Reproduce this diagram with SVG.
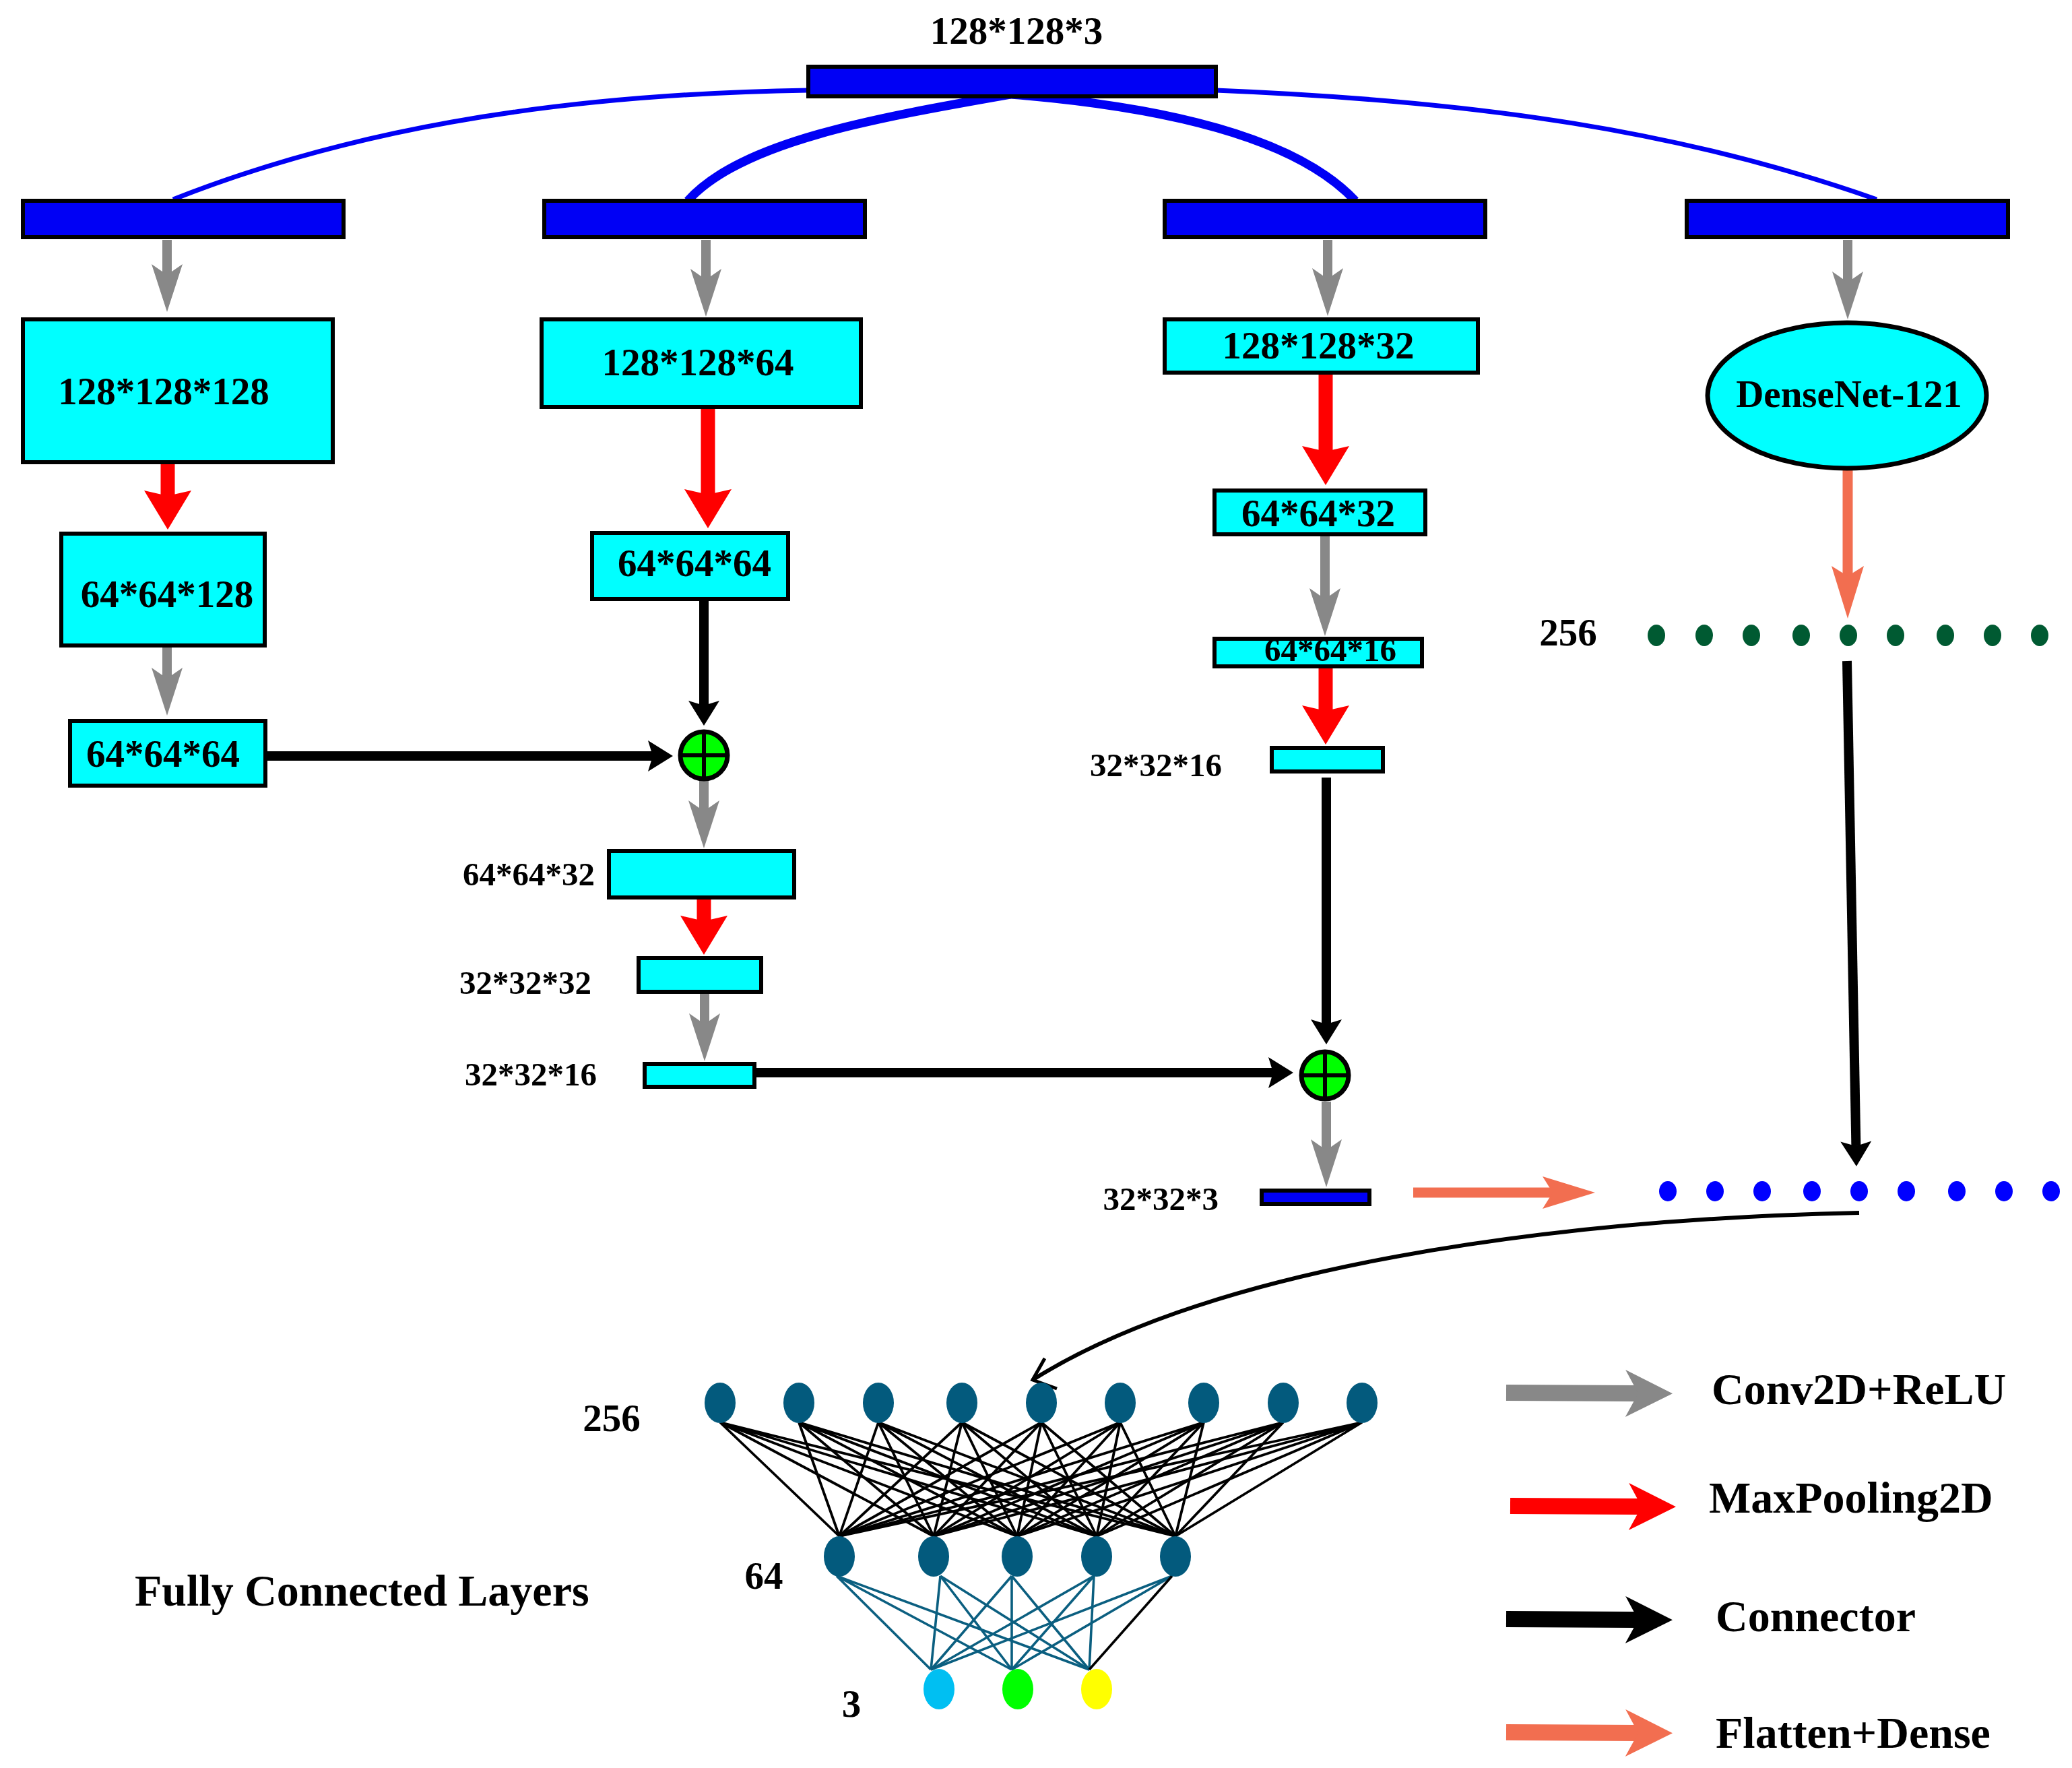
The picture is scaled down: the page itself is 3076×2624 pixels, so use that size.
<svg xmlns="http://www.w3.org/2000/svg" width="3076" height="2624" viewBox="0 0 3076 2624">
<style>
text{font-family:"Liberation Serif","Times New Roman",serif;font-weight:bold;fill:#000}
.t{font-size:57px;text-anchor:middle}
.l{font-size:49px;text-anchor:end}
.g{font-size:66px}
.bx{stroke:#000;stroke-width:6}
.blue{fill:#0000f5}
.cyan{fill:#00ffff}
.gray{stroke:#888;stroke-width:14;fill:none}
.red{stroke:#ff0000;stroke-width:21;fill:none}
.blk{stroke:#000;stroke-width:14;fill:none}
.sal{stroke:#f26e50;stroke-width:15;fill:none}
.bc{stroke:#0000f5;fill:none}
.nn{fill:#035a7d}
.e1{stroke:#000;stroke-width:3.8}
.e2{stroke:#0b5f80;stroke-width:3.6}
</style>
<defs>
<marker id="mg" markerUnits="userSpaceOnUse" markerWidth="10" markerHeight="10" refX="0" refY="0" orient="auto" overflow="visible"><path d="M55,0 L-16,-23 L0,0 L-16,23 Z" fill="#888"/></marker>
<marker id="mr" markerUnits="userSpaceOnUse" markerWidth="10" markerHeight="10" refX="0" refY="0" orient="auto" overflow="visible"><path d="M50,0 L-8,-35 L0,0 L-8,35 Z" fill="#ff0000"/></marker>
<marker id="mb" markerUnits="userSpaceOnUse" markerWidth="10" markerHeight="10" refX="0" refY="0" orient="auto" overflow="visible"><path d="M30,0 L-7,-23 L0,0 L-7,23 Z" fill="#000"/></marker>
<marker id="ms" markerUnits="userSpaceOnUse" markerWidth="10" markerHeight="10" refX="0" refY="0" orient="auto" overflow="visible"><path d="M63,0 L-15,-24 L0,0 L-15,24 Z" fill="#f26e50"/></marker>
<marker id="Lg" markerUnits="userSpaceOnUse" markerWidth="10" markerHeight="10" refX="0" refY="0" orient="auto" overflow="visible"><path d="M51,0 L-19,-35 L0,0 L-19,35 Z" fill="#888"/></marker>
<marker id="Lr" markerUnits="userSpaceOnUse" markerWidth="10" markerHeight="10" refX="0" refY="0" orient="auto" overflow="visible"><path d="M51,0 L-19,-35 L0,0 L-19,35 Z" fill="#ff0000"/></marker>
<marker id="Lb" markerUnits="userSpaceOnUse" markerWidth="10" markerHeight="10" refX="0" refY="0" orient="auto" overflow="visible"><path d="M51,0 L-19,-35 L0,0 L-19,35 Z" fill="#000"/></marker>
<marker id="Ls" markerUnits="userSpaceOnUse" markerWidth="10" markerHeight="10" refX="0" refY="0" orient="auto" overflow="visible"><path d="M51,0 L-19,-35 L0,0 L-19,35 Z" fill="#f26e50"/></marker>
</defs>
<rect width="3076" height="2624" fill="#fff"/>

<g id="connectors">
  <!-- blue split curves -->
  <path class="bc" stroke-width="7" d="M1200,134 C800,140 500,200 257,296"/>
  <path class="bc" stroke-width="13" d="M1500,140 C1300,175 1100,210 1021,298"/>
  <path class="bc" stroke-width="13" d="M1500,140 C1750,160 1930,210 2012,298"/>
  <path class="bc" stroke-width="7" d="M1805,134 C2200,150 2500,195 2786,296"/>
  <!-- column A -->
  <path class="gray" d="M248,356 L248,408" marker-end="url(#mg)"/>
  <path class="red" d="M249,689 L249,736" marker-end="url(#mr)"/>
  <path class="gray" d="M248,961 L248,1007" marker-end="url(#mg)"/>
  <path class="blk" d="M397,1122 L969,1122" marker-end="url(#mb)"/>
  <!-- column B -->
  <path class="gray" d="M1048,356 L1048,415" marker-end="url(#mg)"/>
  <path class="red" d="M1051,607 L1051,734" marker-end="url(#mr)"/>
  <path class="blk" d="M1045,892 L1045,1047" marker-end="url(#mb)"/>
  <path class="gray" d="M1045,1159 L1045,1204" marker-end="url(#mg)"/>
  <path class="red" d="M1045,1335 L1045,1367" marker-end="url(#mr)"/>
  <path class="gray" d="M1046,1475 L1046,1520" marker-end="url(#mg)"/>
  <path class="blk" d="M1122,1592 L1890,1592" marker-end="url(#mb)"/>
  <!-- column C -->
  <path class="gray" d="M1971,356 L1971,414" marker-end="url(#mg)"/>
  <path class="red" d="M1968,556 L1968,670" marker-end="url(#mr)"/>
  <path class="gray" d="M1967,796 L1967,889" marker-end="url(#mg)"/>
  <path class="red" d="M1968,992 L1968,1055" marker-end="url(#mr)"/>
  <path class="blk" d="M1969,1154 L1969,1520" marker-end="url(#mb)"/>
  <path class="gray" d="M1969,1635 L1969,1707" marker-end="url(#mg)"/>
  <!-- column D -->
  <path class="gray" d="M2743,356 L2743,419" marker-end="url(#mg)"/>
  <path class="sal" d="M2743,698 L2743,855" marker-end="url(#ms)"/>
  <path class="blk" stroke-width="11" d="M2742,981 L2755.4,1701" marker-end="url(#mb)"/>
  <path class="sal" stroke-width="16" d="M2098,1770 L2305,1770" marker-end="url(#ms)"/>
  <!-- curve to FC -->
  <path d="M2760,1800 C2300,1810 1800,1880 1533,2048" stroke="#000" stroke-width="6" fill="none"/>
  <path d="M1551,2016 L1533,2048 L1569,2061" stroke="#000" stroke-width="5" fill="none"/>
</g>

<g id="input">
  <rect class="bx blue" x="1200" y="99" width="605" height="44"/>
  <text class="t" x="1509" y="65">128*128*3</text>
</g>
<g id="branchA"><rect class="bx blue" x="34" y="298" width="476" height="54"/></g>
<g id="branchB"><rect class="bx blue" x="808" y="298" width="476" height="54"/></g>
<g id="branchC"><rect class="bx blue" x="1729" y="298" width="476" height="54"/></g>
<g id="branchD"><rect class="bx blue" x="2504" y="298" width="477" height="54"/></g>

<g id="a1"><rect class="bx cyan" x="34" y="474" width="460" height="212"/><text class="t" x="243" y="600">128*128*128</text></g>
<g id="a2"><rect class="bx cyan" x="91" y="792" width="302" height="166"/><text class="t" x="248" y="901">64*64*128</text></g>
<g id="a3"><rect class="bx cyan" x="104" y="1070" width="290" height="96"/><text class="t" x="242" y="1138">64*64*64</text></g>

<g id="b1"><rect class="bx cyan" x="804" y="474" width="474" height="130"/><text class="t" x="1036" y="557">128*128*64</text></g>
<g id="b2"><rect class="bx cyan" x="879" y="791" width="291" height="98"/><text class="t" x="1031" y="855">64*64*64</text></g>
<g id="add1">
  <circle cx="1045" cy="1121" r="35" fill="#00ff00" stroke="#000" stroke-width="7"/>
  <path d="M1010,1121 H1080 M1045,1086 V1156" stroke="#000" stroke-width="6"/>
</g>
<g id="b3"><rect class="bx cyan" x="904" y="1263" width="275" height="69"/><text class="l" x="883" y="1314">64*64*32</text></g>
<g id="b4"><rect class="bx cyan" x="948" y="1422" width="182" height="50"/><text class="l" x="878" y="1475">32*32*32</text></g>
<g id="b5"><rect class="bx cyan" x="957" y="1579" width="163" height="34"/><text class="l" x="886" y="1611">32*32*16</text></g>

<g id="c1"><rect class="bx cyan" x="1729" y="474" width="465" height="79"/><text class="t" x="1957" y="532">128*128*32</text></g>
<g id="c2"><rect class="bx cyan" x="1803" y="728" width="313" height="65"/><text class="t" x="1957" y="781">64*64*32</text></g>
<g id="c3"><rect class="bx cyan" x="1803" y="948" width="308" height="41"/><text class="t" x="1975" y="981" style="font-size:49px">64*64*16</text></g>
<g id="c4"><rect class="bx cyan" x="1888" y="1110" width="165" height="35"/><text class="l" x="1814" y="1152">32*32*16</text></g>
<g id="add2">
  <circle cx="1967" cy="1596" r="35" fill="#00ff00" stroke="#000" stroke-width="7"/>
  <path d="M1932,1596 H2002 M1967,1561 V1631" stroke="#000" stroke-width="6"/>
</g>
<g id="c5"><rect class="bx blue" x="1873" y="1767" width="160" height="20"/><text class="l" x="1809" y="1796">32*32*3</text></g>

<g id="densenet">
  <ellipse cx="2742" cy="587" rx="207" ry="108" fill="#00ffff" stroke="#000" stroke-width="7"/>
  <text class="t" x="2745" y="604">DenseNet-121</text>
</g>
<g id="dense256">
  <text class="t" x="2328" y="958">256</text>
  <g fill="#005a32">
    <ellipse cx="2459" cy="943" rx="13" ry="16"/><ellipse cx="2530" cy="943" rx="13" ry="16"/><ellipse cx="2600" cy="943" rx="13" ry="16"/>
    <ellipse cx="2674" cy="943" rx="13" ry="16"/><ellipse cx="2744" cy="943" rx="13" ry="16"/><ellipse cx="2814" cy="943" rx="13" ry="16"/>
    <ellipse cx="2888" cy="943" rx="13" ry="16"/><ellipse cx="2958" cy="943" rx="13" ry="16"/><ellipse cx="3028" cy="943" rx="13" ry="16"/>
  </g>
</g>
<g id="concat">
  <g fill="#0000ff">
    <ellipse cx="2476" cy="1768" rx="13" ry="15"/><ellipse cx="2546" cy="1768" rx="13" ry="15"/><ellipse cx="2616" cy="1768" rx="13" ry="15"/>
    <ellipse cx="2690" cy="1768" rx="13" ry="15"/><ellipse cx="2760" cy="1768" rx="13" ry="15"/><ellipse cx="2830" cy="1768" rx="13" ry="15"/>
    <ellipse cx="2905" cy="1768" rx="13" ry="15"/><ellipse cx="2975" cy="1768" rx="13" ry="15"/><ellipse cx="3045" cy="1768" rx="13" ry="15"/>
  </g>
</g>

<g id="fc">
  <g id="fc-edges1" class="e1">
    <path d="M1069,2111 L1246,2280 M1069,2111 L1386,2280 M1069,2111 L1510,2280 M1069,2111 L1628,2280 M1069,2111 L1745,2280"/>
    <path d="M1186,2111 L1246,2280 M1186,2111 L1386,2280 M1186,2111 L1510,2280 M1186,2111 L1628,2280 M1186,2111 L1745,2280"/>
    <path d="M1304,2111 L1246,2280 M1304,2111 L1386,2280 M1304,2111 L1510,2280 M1304,2111 L1628,2280 M1304,2111 L1745,2280"/>
    <path d="M1428,2111 L1246,2280 M1428,2111 L1386,2280 M1428,2111 L1510,2280 M1428,2111 L1628,2280 M1428,2111 L1745,2280"/>
    <path d="M1546,2111 L1246,2280 M1546,2111 L1386,2280 M1546,2111 L1510,2280 M1546,2111 L1628,2280 M1546,2111 L1745,2280"/>
    <path d="M1663,2111 L1246,2280 M1663,2111 L1386,2280 M1663,2111 L1510,2280 M1663,2111 L1628,2280 M1663,2111 L1745,2280"/>
    <path d="M1787,2111 L1246,2280 M1787,2111 L1386,2280 M1787,2111 L1510,2280 M1787,2111 L1628,2280 M1787,2111 L1745,2280"/>
    <path d="M1905,2111 L1246,2280 M1905,2111 L1386,2280 M1905,2111 L1510,2280 M1905,2111 L1628,2280 M1905,2111 L1745,2280"/>
    <path d="M2022,2111 L1246,2280 M2022,2111 L1386,2280 M2022,2111 L1510,2280 M2022,2111 L1628,2280 M2022,2111 L1745,2280"/>
  </g>
  <g id="fc-edges2" class="e2">
    <path d="M1242,2339 L1382,2478 M1242,2339 L1502,2478 M1242,2339 L1617,2478"/>
    <path d="M1396,2339 L1382,2478 M1396,2339 L1502,2478 M1396,2339 L1617,2478"/>
    <path d="M1502,2339 L1382,2478 M1502,2339 L1502,2478 M1502,2339 L1617,2478"/>
    <path d="M1624,2339 L1382,2478 M1624,2339 L1502,2478 M1624,2339 L1617,2478"/>
    <path d="M1740,2339 L1382,2478 M1740,2339 L1502,2478"/>
    <path d="M1740,2339 L1617,2478" stroke="#000"/>
  </g>
  <g id="fc-layer256" class="nn">
    <ellipse cx="1069" cy="2082" rx="23" ry="30"/><ellipse cx="1186" cy="2082" rx="23" ry="30"/><ellipse cx="1304" cy="2082" rx="23" ry="30"/>
    <ellipse cx="1428" cy="2082" rx="23" ry="30"/><ellipse cx="1546" cy="2082" rx="23" ry="30"/><ellipse cx="1663" cy="2082" rx="23" ry="30"/>
    <ellipse cx="1787" cy="2082" rx="23" ry="30"/><ellipse cx="1905" cy="2082" rx="23" ry="30"/><ellipse cx="2022" cy="2082" rx="23" ry="30"/>
  </g>
  <g id="fc-layer64" class="nn">
    <ellipse cx="1246" cy="2310" rx="23" ry="30"/><ellipse cx="1386" cy="2310" rx="23" ry="30"/><ellipse cx="1510" cy="2310" rx="23" ry="30"/>
    <ellipse cx="1628" cy="2310" rx="23" ry="30"/><ellipse cx="1745" cy="2310" rx="23" ry="30"/>
  </g>
  <g id="fc-layer3">
    <ellipse cx="1394" cy="2507" rx="23" ry="30" fill="#00bff2"/>
    <ellipse cx="1511" cy="2507" rx="23" ry="30" fill="#00ff00"/>
    <ellipse cx="1628" cy="2507" rx="23" ry="30" fill="#ffff00"/>
  </g>
  <text class="t" x="908" y="2124">256</text>
  <text class="t" x="1134" y="2358">64</text>
  <text class="t" x="1264" y="2548">3</text>
  <text class="g" x="200" y="2383">Fully Connected Layers</text>
</g>

<g id="legend">
  <path d="M2236,2067 L2432,2068" stroke="#888" stroke-width="24" marker-end="url(#Lg)"/>
  <text class="g" x="2541" y="2084">Conv2D+ReLU</text>
  <path d="M2242,2235 L2437,2236" stroke="#ff0000" stroke-width="24" marker-end="url(#Lr)"/>
  <text class="g" x="2537" y="2245">MaxPooling2D</text>
  <path d="M2236,2403 L2432,2404" stroke="#000" stroke-width="24" marker-end="url(#Lb)"/>
  <text class="g" x="2547" y="2421">Connector</text>
  <path d="M2236,2571 L2432,2572" stroke="#f26e50" stroke-width="24" marker-end="url(#Ls)"/>
  <text class="g" x="2547" y="2594">Flatten+Dense</text>
</g>
</svg>
